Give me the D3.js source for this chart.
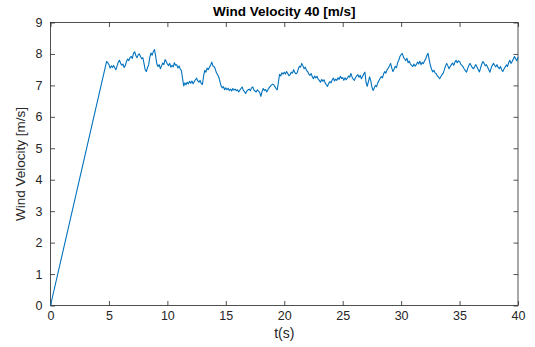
<!DOCTYPE html>
<html>
<head>
<meta charset="utf-8">
<script src="https://cdn.jsdelivr.net/npm/d3@7"></script>
<style>
  html, body { margin: 0; padding: 0; background: #fff; }
  svg { display: block; font-family: "Liberation Sans", Arial, Helvetica, sans-serif; }
</style>
</head>
<body>
<svg id="chart" width="535" height="347"></svg>
<script>
// Start-up ramp of the wind profile: [time s, speed m/s]
const rampPoints = [[0, 0], [4.8, 7.76]];

// Turbulent wind speed sampled every 0.1 s from t = 4.9 s to t = 40 s
const turbStart = 4.9;
const turbStep = 0.1;
const turbSpeed = [
  7.72,
  7.66, 7.55, 7.62, 7.57, 7.63, 7.56, 7.50, 7.62, 7.74, 7.80,
  7.70, 7.64, 7.68, 7.57, 7.63, 7.76, 7.84, 7.79, 7.88, 7.92,
  7.86, 8.02, 8.07, 7.95, 7.88, 7.97, 8.00, 7.92, 7.85, 7.88,
  7.70, 7.50, 7.44, 7.56, 7.66, 7.90, 8.03, 7.96, 8.08, 8.14,
  7.92, 7.68, 7.60, 7.66, 7.53, 7.62, 7.71, 7.66, 7.82, 7.76,
  7.68, 7.63, 7.70, 7.58, 7.64, 7.59, 7.72, 7.64, 7.66, 7.55,
  7.62, 7.52, 7.47, 7.22, 6.98, 7.08, 7.02, 7.10, 7.05, 7.13,
  7.07, 7.14, 7.05, 7.12, 7.18, 7.23, 7.14, 7.10, 7.16, 7.06,
  7.03, 7.30, 7.48, 7.42, 7.55, 7.50, 7.58, 7.64, 7.74, 7.62,
  7.60, 7.52, 7.40, 7.34, 7.26, 7.12, 6.98, 6.92, 6.96, 6.86,
  6.92, 6.86, 6.91, 6.84, 6.88, 6.82, 6.90, 6.85, 6.88, 6.83,
  6.86, 6.79, 6.85, 6.90, 6.95, 6.84, 6.80, 6.74, 6.82, 6.86,
  6.88, 6.83, 6.92, 6.95, 6.86, 6.82, 6.79, 6.86, 6.82, 6.78,
  6.65, 6.80, 6.90, 6.84, 6.87, 6.79, 6.86, 6.92, 6.97, 7.01,
  7.04, 7.02, 6.96, 6.90, 6.86, 7.10, 7.35, 7.30, 7.40, 7.36,
  7.42, 7.36, 7.44, 7.38, 7.31, 7.34, 7.42, 7.39, 7.50, 7.41,
  7.37, 7.40, 7.52, 7.61, 7.58, 7.70, 7.62, 7.53, 7.58, 7.48,
  7.44, 7.36, 7.32, 7.38, 7.27, 7.21, 7.30, 7.24, 7.29, 7.20,
  7.16, 7.10, 7.19, 7.13, 7.18, 7.08, 7.02, 6.97, 7.06, 7.12,
  7.08, 7.17, 7.23, 7.14, 7.20, 7.16, 7.24, 7.19, 7.29, 7.22,
  7.25, 7.16, 7.24, 7.18, 7.23, 7.30, 7.26, 7.38, 7.27, 7.20,
  7.16, 7.25, 7.30, 7.34, 7.26, 7.32, 7.21, 7.28, 7.36, 7.42,
  7.10, 6.97, 7.12, 7.27, 7.15, 6.95, 6.84, 6.92, 7.00, 6.96,
  7.08, 7.15, 7.22, 7.28, 7.24, 7.36, 7.44, 7.39, 7.50, 7.55,
  7.62, 7.70, 7.55, 7.44, 7.52, 7.61, 7.56, 7.72, 7.80, 7.92,
  7.98, 8.02, 7.90, 7.84, 7.79, 7.86, 7.72, 7.77, 7.68, 7.64,
  7.60, 7.68, 7.61, 7.66, 7.74, 7.68, 7.77, 7.66, 7.73, 7.69,
  7.78, 7.84, 7.95, 8.02, 7.82, 7.64, 7.52, 7.43, 7.48, 7.40,
  7.37, 7.30, 7.26, 7.21, 7.28, 7.34, 7.39, 7.50, 7.62, 7.70,
  7.62, 7.53, 7.60, 7.66, 7.71, 7.64, 7.74, 7.80, 7.72, 7.78,
  7.76, 7.68, 7.64, 7.59, 7.52, 7.47, 7.42, 7.55, 7.64, 7.70,
  7.62, 7.56, 7.53, 7.60, 7.66, 7.58, 7.50, 7.43, 7.56, 7.68,
  7.76, 7.70, 7.62, 7.66, 7.58, 7.50, 7.42, 7.55, 7.63, 7.70,
  7.64, 7.59, 7.66, 7.57, 7.53, 7.60, 7.50, 7.44, 7.52, 7.58,
  7.65, 7.60, 7.72, 7.80, 7.70, 7.76, 7.84, 7.92, 7.85, 7.78,
  7.90
];

const xTicks = [0, 5, 10, 15, 20, 25, 30, 35, 40];
const yTicks = [0, 1, 2, 3, 4, 5, 6, 7, 8, 9];

const titleText = "Wind Velocity 40 [m/s]";
const xLabelText = "t(s)";
const yLabelText = "Wind Velocity [m/s]";

// Full series: ramp followed by the turbulent part
const series = rampPoints.map(d => ({ t: d[0], v: d[1] }))
  .concat(turbSpeed.map((v, i) => ({ t: +(turbStart + i * turbStep).toFixed(2), v })));

const plot = { left: 50.5, right: 518, top: 22.5, bottom: 305.5 };
const axisColor = "#262626";
const lineColor = "#0072BD";

const svg = d3.select("#chart");

const x = d3.scaleLinear().domain([0, 40]).range([plot.left, plot.right]);
const y = d3.scaleLinear().domain([0, 9]).range([plot.bottom, plot.top]);

const tickLen = 4.5;

function styleAxis(g, showLabels) {
  g.select(".domain").remove();
  g.selectAll(".tick line").attr("stroke", axisColor).attr("stroke-width", 0.8);
  g.selectAll(".tick text")
    .attr("fill", axisColor)
    .style("font-size", "12.5px")
    .style("display", showLabels ? null : "none");
}

// Bottom axis with inward ticks
svg.append("g")
  .attr("transform", `translate(0,${plot.bottom})`)
  .call(d3.axisBottom(x).tickValues(xTicks).tickSize(-tickLen).tickPadding(6))
  .call(g => styleAxis(g, true));

// Top axis (ticks only)
svg.append("g")
  .attr("transform", `translate(0,${plot.top})`)
  .call(d3.axisTop(x).tickValues(xTicks).tickSize(-tickLen))
  .call(g => styleAxis(g, false));

// Left axis with inward ticks
svg.append("g")
  .attr("transform", `translate(${plot.left},0)`)
  .call(d3.axisLeft(y).tickValues(yTicks).tickSize(-tickLen).tickPadding(8))
  .call(g => styleAxis(g, true));

// Right axis (ticks only)
svg.append("g")
  .attr("transform", `translate(${plot.right},0)`)
  .call(d3.axisRight(y).tickValues(yTicks).tickSize(-tickLen))
  .call(g => styleAxis(g, false));

// Axes box
svg.append("rect")
  .attr("x", plot.left)
  .attr("y", plot.top)
  .attr("width", plot.right - plot.left)
  .attr("height", plot.bottom - plot.top)
  .attr("fill", "none")
  .attr("stroke", axisColor)
  .attr("stroke-width", 0.8);

// Wind velocity trace
const line = d3.line().x(d => x(d.t)).y(d => y(d.v));
svg.append("path")
  .datum(series)
  .attr("d", line)
  .attr("fill", "none")
  .attr("stroke", lineColor)
  .attr("stroke-width", 1.1)
  .attr("stroke-linejoin", "round");

// Title
svg.append("text")
  .attr("x", (plot.left + plot.right) / 2)
  .attr("y", 16)
  .attr("text-anchor", "middle")
  .attr("fill", "#000")
  .style("font-size", "13.5px")
  .style("font-weight", "bold")
  .text(titleText);

// X label
svg.append("text")
  .attr("x", (plot.left + plot.right) / 2)
  .attr("y", 338)
  .attr("text-anchor", "middle")
  .attr("fill", axisColor)
  .style("font-size", "14px")
  .text(xLabelText);

// Y label
svg.append("text")
  .attr("transform", `translate(25,${(plot.top + plot.bottom) / 2}) rotate(-90)`)
  .attr("text-anchor", "middle")
  .attr("fill", axisColor)
  .style("font-size", "13.5px")
  .text(yLabelText);
</script>
</body>
</html>
